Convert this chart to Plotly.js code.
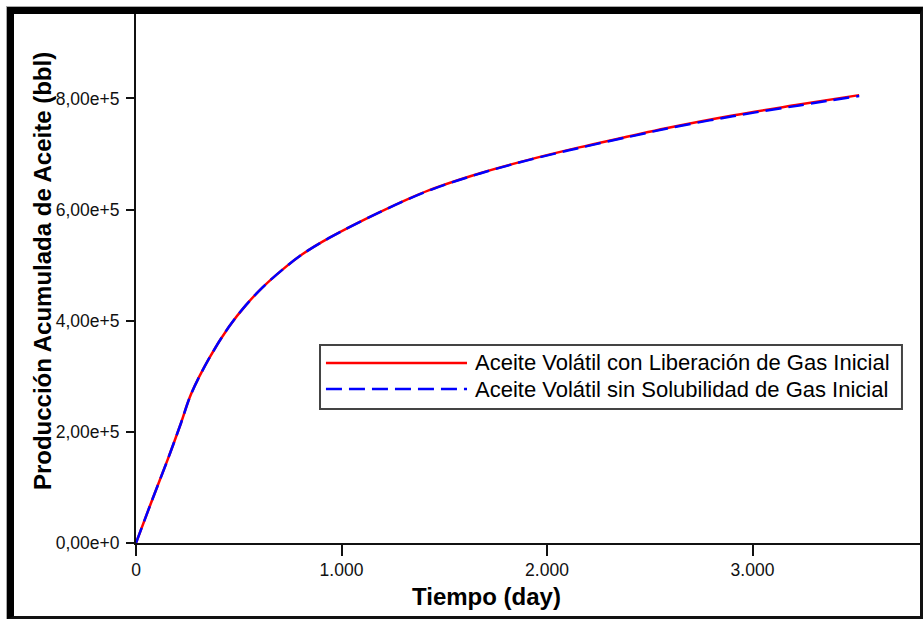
<!DOCTYPE html>
<html>
<head>
<meta charset="utf-8">
<script src="https://cdn.plot.ly/plotly-3.0.1.min.js"></script>
<style>
  html, body { margin: 0; padding: 0; background: #fff; overflow: hidden; }
  #chart { position: absolute; left: 0; top: 0; width: 923px; height: 619px; }
  #outer { position: absolute; left: 6px; top: 6px; width: 917px; height: 613px; box-sizing: border-box;
           border-top: 1px solid #aaa; border-left: 1px solid #aaa; pointer-events: none; }
  #frame { position: absolute; left: 7px; top: 7px; width: 916px; height: 612px; box-sizing: border-box;
           border-left: 7px solid #000; border-top: 7px solid #000; border-right: 3px solid #111; border-bottom: 3px solid #111;
           pointer-events: none; }
</style>
</head>
<body>
<div id="chart"></div>
<div id="outer"></div>
<div id="frame"></div>
<script>
// ---- data ----
const seriesNames = [
  "Aceite Volátil con Liberación de Gas Inicial",
  "Aceite Volátil sin Solubilidad de Gas Inicial"
];
const timeDays = [0, 73, 154, 219, 268, 357, 454, 535, 616, 713, 811, 940, 1184, 1427, 1670, 1914, 2157, 2400, 2579, 2903, 3227, 3519];
const prodLiberacion = [0, 72000, 150000, 216000, 268000, 333000, 390000, 428000, 460000, 492000, 520000, 549000, 595000, 635000, 665000, 690000, 712000, 732000, 746500, 769500, 789000, 806000];
const prodSinSolubilidad = [0, 72000, 150000, 216000, 268000, 333000, 390000, 428000, 460000, 492000, 520000, 549000, 595000, 634500, 664500, 689500, 711000, 731000, 745500, 768000, 787500, 804500];
const xTitle = "Tiempo (day)";
const yTitle = "Producción Acumulada de Aceite (bbl)";

const fontFam = "Liberation Sans, Arial, sans-serif";
const red = "#ff0000", blue = "#0000ff";
const dashPat = "16px,7px";

const traces = [
  { x: timeDays, y: prodLiberacion, type: "scatter", mode: "lines", name: seriesNames[0],
    line: { color: red, width: 2.5, shape: "spline", smoothing: 1 }, showlegend: false },
  { x: timeDays, y: prodSinSolubilidad, type: "scatter", mode: "lines", name: seriesNames[1],
    line: { color: blue, width: 2.5, dash: dashPat, shape: "spline", smoothing: 1 }, showlegend: false }
];

// custom legend (paper coordinates)
const L = { x0: 0.2347, x1: 0.9770, y0: 0.2533, y1: 0.3743, lx0: 0.2423, lx1: 0.4222, tx: 0.4298, rows: [0.3403, 0.2911] };
const legendColors = [red, blue];
const legendDash = ["solid", dashPat];

const shapes = [
  { type: "rect", xref: "paper", yref: "paper", x0: L.x0, x1: L.x1, y0: L.y0, y1: L.y1,
    line: { color: "#444", width: 2 }, fillcolor: "#fff", layer: "above" }
];
const annotations = [];
seriesNames.forEach((nm, i) => {
  shapes.push({ type: "line", xref: "paper", yref: "paper", x0: L.lx0, x1: L.lx1, y0: L.rows[i], y1: L.rows[i],
    line: { color: legendColors[i], width: 2.5, dash: legendDash[i] }, layer: "above" });
  annotations.push({ xref: "paper", yref: "paper", x: L.tx, y: L.rows[i], xanchor: "left", yanchor: "middle",
    text: nm, showarrow: false, font: { family: fontFam, size: 22, color: "#000" } });
});
annotations.push({ xref: "paper", yref: "paper", x: 0.447, y: -0.102, xanchor: "center", yanchor: "middle",
  text: "<b>" + xTitle + "</b>", showarrow: false, font: { family: fontFam, size: 24, color: "#000" } });
annotations.push({ xref: "paper", yref: "paper", x: -0.1199, y: 0.514, xanchor: "center", yanchor: "middle", textangle: -90,
  text: "<b>" + yTitle + "</b>", showarrow: false, font: { family: fontFam, size: 24, color: "#000" } });

const layout = {
  width: 923, height: 619,
  margin: { l: 136, r: 3, t: 14, b: 76, pad: 0 },
  paper_bgcolor: "#fff", plot_bgcolor: "#fff",
  separators: ",.",
  showlegend: false,
  font: { family: fontFam, color: "#111" },
  xaxis: {
    range: [0, 3815], tick0: 0, dtick: 1000, tickformat: ",d",
    showgrid: false, zeroline: false, showline: true, linecolor: "#111", linewidth: 2,
    ticks: "outside", ticklen: 11, tickwidth: 2, tickcolor: "#111",
    tickfont: { family: fontFam, size: 17.5, color: "#111" }, ticklabelstandoff: -1
  },
  yaxis: {
    range: [0, 952000], tick0: 0, dtick: 200000, tickformat: ".2e",
    showgrid: false, zeroline: false, showline: true, linecolor: "#111", linewidth: 2,
    ticks: "outside", ticklen: 8, tickwidth: 2, tickcolor: "#111",
    tickfont: { family: fontFam, size: 17.5, color: "#111" }, ticklabelstandoff: 3
  },
  shapes: shapes,
  annotations: annotations
};

Plotly.newPlot("chart", traces, layout, { staticPlot: true, displayModeBar: false });
</script>
</body>
</html>
